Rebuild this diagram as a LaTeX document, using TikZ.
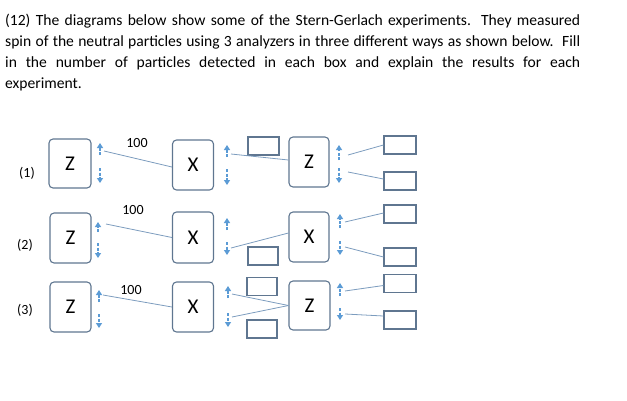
\documentclass[tikz,border=0pt]{standalone}
\usepackage{fontspec}
\setmainfont{Carlito}
\usetikzlibrary{arrows.meta,calc}
\definecolor{boxc}{HTML}{5F7690}
\definecolor{linec}{HTML}{7C9CBE}
\definecolor{arrc}{HTML}{5B9BD5}
\begin{document}
\begin{tikzpicture}[x=1pt,y=-1pt,
  analyzer/.style={draw=boxc,line width=1.1pt,rounded corners=4pt,inner sep=0pt,font=\fontsize{21}{21}\selectfont},
  emptybox/.style={draw=boxc,line width=1.1pt,inner sep=0pt,minimum width=31pt,minimum height=18pt},
  spinarrow/.style={draw=arrc,line width=1.2pt,dash pattern=on 3pt off 1.5pt,-{Triangle[width=6pt,length=5pt,sep=0pt]}},
  beam/.style={draw=linec,line width=0.8pt},
  lab/.style={inner sep=0pt,font=\fontsize{14}{14}\selectfont},
  txt/.style={inner sep=0pt,anchor=base west,font=\fontsize{15.6}{21}\selectfont}]
\useasboundingbox (0,0) rectangle (627,400);
% question text
\node[txt] (t1) at (5,25) {\makebox[575pt][s]{(12) The diagrams below show some of the Stern-Gerlach experiments. They measured}};
\node[txt] (t2) at (5,46) {\makebox[575pt][s]{spin of the neutral particles using 3 analyzers in three different ways as shown below.\ \ Fill}};
\node[txt] (t3) at (5,67) {\makebox[575pt][s]{in the number of particles detected in each box and explain the results for each}};
\node[txt] (t4) at (5,88) {experiment.};
% row labels
\node[lab] (l1) at (27,173) {(1)};
\node[lab] (l2) at (25,245) {(2)};
\node[lab] (l3) at (25,310) {(3)};
% ---------- row 1
\node[analyzer,minimum width=42pt,minimum height=49pt] (a11) at (70,163.5) {Z};
\node[analyzer,minimum width=41pt,minimum height=50pt] (a12) at (193,165) {X};
\node[analyzer,minimum width=40pt,minimum height=50pt] (a13) at (309,162) {Z};
\node[emptybox] (e11) at (263.5,146) {};
\node[emptybox,minimum width=32pt] (r11) at (400,145) {};
\node[emptybox,minimum width=32pt] (r12) at (400,181) {};
\node[lab] (n1) at (137,143) {100};
\coordinate (u11s) at (100,155); \coordinate (u11e) at (100,143);
\coordinate (d11s) at (100,168); \coordinate (d11e) at (100,183);
\coordinate (u12s) at (227,157); \coordinate (u12e) at (227,145);
\coordinate (d12s) at (227,169); \coordinate (d12e) at (227,185);
\coordinate (u13s) at (339,160); \coordinate (u13e) at (339,145);
\coordinate (d13s) at (339,168); \coordinate (d13e) at (339,183);
\draw[spinarrow] (u11s) -- (u11e); \draw[spinarrow] (d11s) -- (d11e);
\draw[spinarrow] (u12s) -- (u12e); \draw[spinarrow] (d12s) -- (d12e);
\draw[spinarrow] (u13s) -- (u13e); \draw[spinarrow] (d13s) -- (d13e);
\coordinate (b11) at (104,151); \coordinate (b12) at (231,154);
\coordinate (b13) at (348,155); \coordinate (b14) at (348,172);
\draw[beam] (b11) -- ($(a12.west)+(0,2)$);
\draw[beam] (b12) -- ($(a13.west)+(0,-2)$);
\draw[beam] (b13) -- (r11.west);
\draw[beam] (b14) -- ($(r12.west)+(0,-2)$);
% ---------- row 2
\node[analyzer,minimum width=41pt,minimum height=50pt] (a21) at (70.5,238) {Z};
\node[analyzer,minimum width=41pt,minimum height=51pt] (a22) at (193,237.5) {X};
\node[analyzer,minimum width=40pt,minimum height=50pt] (a23) at (309,237) {X};
\node[emptybox,minimum width=30pt] (e21) at (263,256) {};
\node[emptybox,minimum width=32pt] (r21) at (400,214) {};
\node[emptybox,minimum width=32pt] (r22) at (400,257) {};
\node[lab] (n2) at (133,210) {100};
\coordinate (u21s) at (98,232); \coordinate (u21e) at (98,222);
\coordinate (d21s) at (98,243); \coordinate (d21e) at (98,258);
\coordinate (u22s) at (227,230); \coordinate (u22e) at (227,218);
\coordinate (d22s) at (227,242); \coordinate (d22e) at (227,255);
\coordinate (u23s) at (340,228); \coordinate (u23e) at (340,214);
\coordinate (d23s) at (340,241); \coordinate (d23e) at (340,255);
\draw[spinarrow] (u21s) -- (u21e); \draw[spinarrow] (d21s) -- (d21e);
\draw[spinarrow] (u22s) -- (u22e); \draw[spinarrow] (d22s) -- (d22e);
\draw[spinarrow] (u23s) -- (u23e); \draw[spinarrow] (d23s) -- (d23e);
\coordinate (b21) at (106,224); \coordinate (b22) at (231,248);
\coordinate (b23) at (345,222); \coordinate (b24) at (345,247);
\draw[beam] (b21) -- (a22.west);
\draw[beam] (b22) -- ($(a23.west)+(0,-4)$);
\draw[beam] (b23) -- ($(r21.west)+(0,-1)$);
\draw[beam] (b24) -- (r22.west);
% ---------- row 3
\node[analyzer,minimum width=41pt,minimum height=50pt] (a31) at (70.5,307) {Z};
\node[analyzer,minimum width=41pt,minimum height=50pt] (a32) at (193,307) {X};
\node[analyzer,minimum width=41pt,minimum height=49pt] (a33) at (309.5,305.5) {Z};
\node[emptybox,minimum width=30pt] (e31) at (262,286.5) {};
\node[emptybox,minimum width=30pt] (e32) at (262,329) {};
\node[emptybox,minimum width=32pt] (r31) at (400,283.5) {};
\node[emptybox,minimum width=32pt] (r32) at (400,320) {};
\node[lab] (n3) at (131,290) {100};
\coordinate (u31s) at (99,302); \coordinate (u31e) at (99,290);
\coordinate (d31s) at (99,314); \coordinate (d31e) at (99,328);
\coordinate (u32s) at (228,298); \coordinate (u32e) at (228,286);
\coordinate (d32s) at (228,313); \coordinate (d32e) at (228,327);
\coordinate (u33s) at (340,296); \coordinate (u33e) at (340,283);
\coordinate (d33s) at (340,308); \coordinate (d33e) at (340,320);
\draw[spinarrow] (u31s) -- (u31e); \draw[spinarrow] (d31s) -- (d31e);
\draw[spinarrow] (u32s) -- (u32e); \draw[spinarrow] (d32s) -- (d32e);
\draw[spinarrow] (u33s) -- (u33e); \draw[spinarrow] (d33s) -- (d33e);
\coordinate (b31) at (103,295); \coordinate (b32) at (232,294);
\coordinate (b33) at (232,317); \coordinate (b34) at (345,291);
\coordinate (b35) at (345,314);
\draw[beam] (b31) -- (a32.west);
\draw[beam] (a33.west) -- (b32);
\draw[beam] (a33.west) -- (b33);
\draw[beam] (b34) -- ($(r31.west)+(0,2)$);
\draw[beam] (b35) -- ($(r32.west)+(0,-4)$);
\end{tikzpicture}
\end{document}
